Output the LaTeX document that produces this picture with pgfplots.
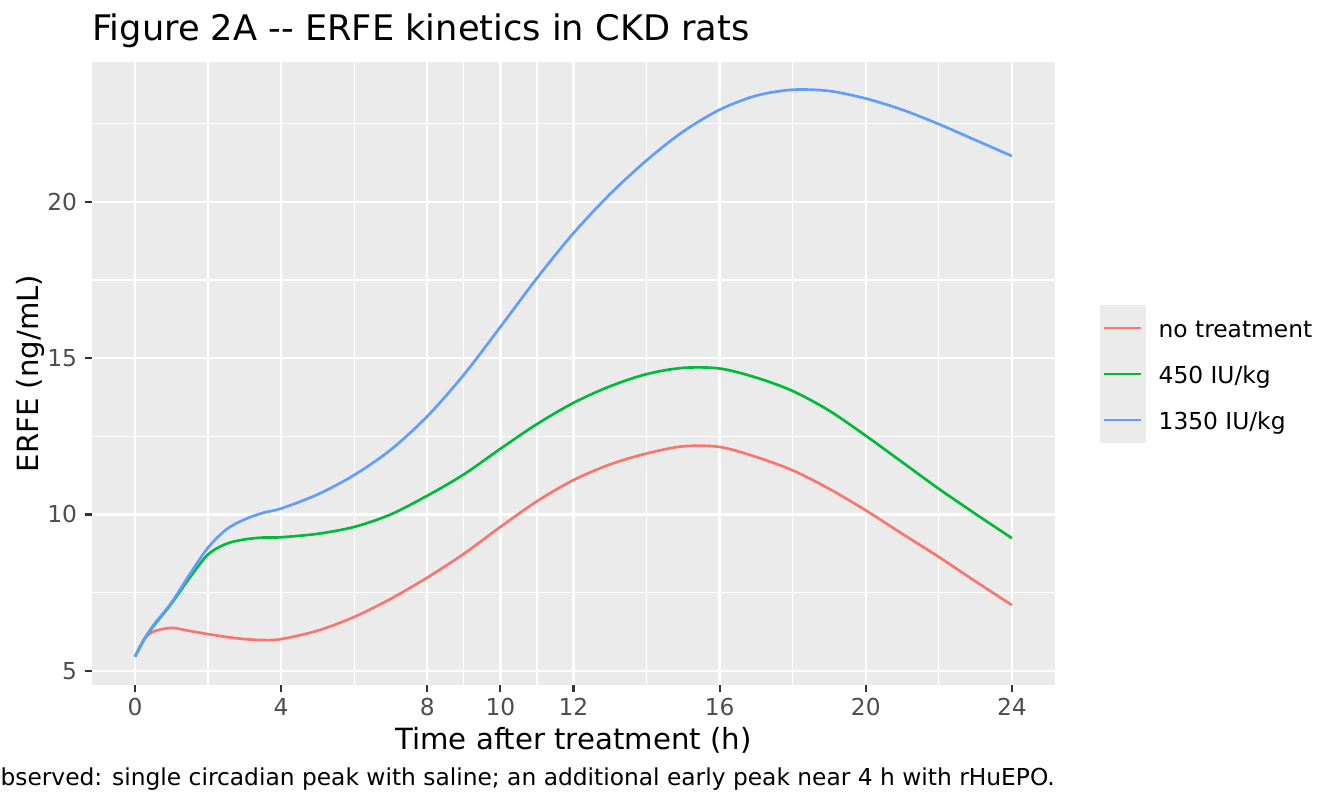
\documentclass[border=0pt]{standalone}
\usepackage{fontspec}
\setmainfont{DejaVu Sans}
\usepackage{pgfplots}
\pgfplotsset{compat=1.18}
\definecolor{ggred}{HTML}{F8766D}
\definecolor{gggreen}{HTML}{00BA38}
\definecolor{ggblue}{HTML}{619CFF}
\definecolor{ggbg}{HTML}{EBEBEB}
\definecolor{gg20}{HTML}{333333}
\definecolor{gg30}{HTML}{4D4D4D}
\begin{document}
\begin{tikzpicture}
\begin{axis}[
  at={(69pt,90.75pt)}, anchor=south west,
  scale only axis, width=722.25pt, height=467.25pt,
  xmin=-1.177, xmax=25.18, ymin=4.542, ymax=24.478,
  axis background/.style={fill=ggbg},
  axis x line*=bottom, axis y line*=left,
  axis line style={draw=none},
  xtick={0,4,8,10,12,16,20,24}, ytick={5,10,15,20},
  minor xtick={2,6,9,11,14,18,22}, minor ytick={7.5,12.5,17.5,22.5},
  grid=both,
  major grid style={white, line width=1.7pt},
  minor grid style={white, line width=0.9pt},
  tick align=outside, major tick length=5.5pt, minor tick length=0pt,
  major tick style={gg20, line width=1.6pt},
  /pgf/number format/assume math mode=true,
  ticklabel style={font=\fontsize{17.5}{20}\selectfont, text=gg30},
  yticklabel style={anchor=east, inner sep=0pt, xshift=-5.5pt},
  xticklabel style={anchor=north, inner sep=0pt, yshift=-4.5pt},
  legend style={at={(axis description cs:1.0467,0.6100)}, anchor=north west,
    draw=none, fill=none, inner sep=0pt, outer sep=0pt, row sep=0pt,
    font=\fontsize{17.5}{20}\selectfont,
    nodes={inner sep=0pt, text height=34.5pt, text depth=0pt},
    cells={anchor=west},
    /tikz/every odd column/.append style={column sep=9.5pt}},
  legend cell align=left,
  legend image code/.code={%
    \fill[ggbg, draw=none] (0pt,-17.25pt) rectangle (34.5pt,17.25pt);
    \draw[#1, line cap=butt] (3pt,0pt) -- (30.75pt,0pt);},
]
\addplot[ggred, line width=2pt, smooth, line join=round] coordinates {
(0,5.45) (0.25,6.0) (0.5,6.25) (1,6.37) (1.5,6.27) (2,6.17) (2.5,6.08) (3,6.01) (3.5,5.98) (4,6.01)
(5,6.28) (6,6.72) (7,7.3) (8,7.98) (9,8.74) (10,9.6) (11,10.42) (12,11.1) (13,11.6) (14,11.95)
(15,12.18) (16,12.16) (17,11.84) (18,11.41) (19,10.82) (20,10.13) (21,9.38) (22,8.64) (23,7.86) (24,7.1)};
\addlegendentry{\raisebox{10.05pt}{no treatment}}
\addplot[gggreen, line width=2pt, smooth, line join=round] coordinates {
(0,5.45) (0.25,6.0) (0.5,6.42) (1,7.15) (1.5,7.98) (2,8.72) (2.5,9.06) (3,9.2) (3.5,9.26) (4,9.27)
(5,9.38) (6,9.6) (7,10.0) (8,10.6) (9,11.28) (10,12.1) (11,12.89) (12,13.57) (13,14.1) (14,14.49)
(15,14.69) (16,14.67) (17,14.38) (18,13.95) (19,13.32) (20,12.52) (21,11.67) (22,10.82) (23,10.02) (24,9.24)};
\addlegendentry{\raisebox{10.05pt}{450 IU/kg}}
\addplot[ggblue, line width=2pt, smooth, line join=round] coordinates {
(0,5.45) (0.25,6.0) (0.5,6.45) (1,7.18) (1.5,8.09) (2,8.94) (2.5,9.52) (3,9.84) (3.5,10.05) (4,10.19)
(5,10.64) (6,11.26) (7,12.07) (8,13.14) (9,14.47) (10,16.0) (11,17.56) (12,19.0) (13,20.25) (14,21.33)
(15,22.25) (16,22.95) (17,23.4) (18,23.59) (19,23.55) (20,23.31) (21,22.95) (22,22.49) (23,21.98) (24,21.47)};
\addlegendentry{\raisebox{10.05pt}{1350 IU/kg}}
\end{axis}
\node[anchor=base west, inner sep=0pt, font=\fontsize{26.4}{30}\selectfont] at (69pt,574pt) {Figure 2A {-}{-} ERFE kinetics in CKD rats};
\node[anchor=base, inner sep=0pt, rotate=90, font=\fontsize{21.9}{25}\selectfont] at (28.5pt,324.4pt) {ERFE (ng/mL)};
\node[anchor=base, inner sep=0pt, font=\fontsize{21.9}{25}\selectfont] at (430.1pt,42pt) {Time after treatment (h)};
\node[anchor=base east, inner sep=0pt, font=\fontsize{17.5}{20}\selectfont] at (791.25pt,15.75pt) {Observed: single circadian peak with saline; an additional early peak near 4 h with rHuEPO.};
\pgfresetboundingbox
\useasboundingbox (0pt,0pt) rectangle (1008pt,604.5pt);
\end{tikzpicture}
\end{document}
